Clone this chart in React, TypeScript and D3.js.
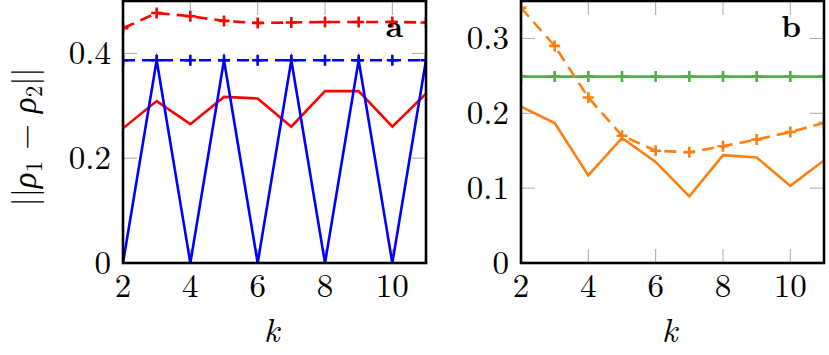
import React, { useEffect, useRef } from 'react';
import * as d3 from 'd3';

const ks = [2, 3, 4, 5, 6, 7, 8, 9, 10, 11];

// panel a
const redDashed = [0.448, 0.477, 0.471, 0.462, 0.458, 0.459, 0.46, 0.46, 0.46, 0.459];
const blueDashed = [0.387, 0.387, 0.387, 0.387, 0.387, 0.387, 0.387, 0.387, 0.387, 0.387];
const blueSolid = [0, 0.387, 0, 0.387, 0, 0.387, 0, 0.387, 0, 0.387];
const redSolid = [0.257, 0.309, 0.265, 0.317, 0.314, 0.26, 0.328, 0.328, 0.26, 0.323];

// panel b
const orangeDashed = [0.341, 0.29, 0.221, 0.17, 0.15, 0.148, 0.156, 0.165, 0.175, 0.187];
const orangeSolid = [0.209, 0.187, 0.117, 0.167, 0.135, 0.089, 0.144, 0.141, 0.103, 0.137];
const greenLine = [0.249, 0.249, 0.249, 0.249, 0.249, 0.249, 0.249, 0.249, 0.249, 0.249];

const xTicks = [2, 4, 6, 8, 10];
const yTicksA = [0, 0.2, 0.4];
const yTicksB = [0, 0.1, 0.2, 0.3];

const FONT = "'Latin Modern Roman', 'CMU Serif', 'Liberation Serif', serif";

type Series = { values: number[]; color: string; dashed: boolean; marks: boolean };

function drawPanel(svg: any, id: string, left: number, right: number, ymax: number,
                   yTicks: number[], series: Series[], letter: string, letterX: number) {
  const top = 1, bottom = 263;
  const x = d3.scaleLinear().domain([2, 11]).range([left, right]);
  const y = d3.scaleLinear().domain([0, ymax]).range([bottom, top]);

  const g = svg.append('g');

  g.append('clipPath').attr('id', id)
    .append('rect').attr('x', left).attr('y', top).attr('width', right - left).attr('height', bottom - top);

  // tick marks on all four sides, inside
  const tl = 14;
  const ticks = g.append('g').attr('stroke', '#a8a8a8').attr('stroke-width', 1);
  xTicks.forEach((t) => {
    ticks.append('line').attr('x1', x(t)).attr('x2', x(t)).attr('y1', bottom).attr('y2', bottom - tl);
    ticks.append('line').attr('x1', x(t)).attr('x2', x(t)).attr('y1', top).attr('y2', top + tl);
  });
  yTicks.forEach((t) => {
    ticks.append('line').attr('x1', left).attr('x2', left + tl).attr('y1', y(t)).attr('y2', y(t));
    ticks.append('line').attr('x1', right).attr('x2', right - tl).attr('y1', y(t)).attr('y2', y(t));
  });

  const line = d3.line<number>().x((d, i) => x(ks[i])).y((d) => y(d));
  const plot = g.append('g').attr('clip-path', `url(#${id})`);

  series.forEach((s) => {
    plot.append('path')
      .attr('d', line(s.values))
      .attr('fill', 'none')
      .attr('stroke', s.color)
      .attr('stroke-width', 2.6)
      .attr('stroke-miterlimit', 10)
      .attr('stroke-dasharray', s.dashed ? '12,7' : null);
    if (s.marks) {
      const m = 5.5;
      s.values.forEach((v, i) => {
        const cx = x(ks[i]), cy = y(v);
        plot.append('path')
          .attr('d', `M${cx - m},${cy}H${cx + m}M${cx},${cy - m}V${cy + m}`)
          .attr('stroke', s.color)
          .attr('stroke-width', 2.6);
      });
    }
  });

  // frame
  g.append('rect')
    .attr('x', left).attr('y', top).attr('width', right - left).attr('height', bottom - top)
    .attr('fill', 'none').attr('stroke', 'black').attr('stroke-width', 2.6);

  // tick labels
  g.selectAll('.xl').data(xTicks).enter().append('text')
    .attr('x', (d) => x(d)).attr('y', 297)
    .attr('text-anchor', 'middle')
    .attr('font-family', FONT).attr('font-size', 33)
    .text((d) => String(d));

  g.selectAll('.yl').data(yTicks).enter().append('text')
    .attr('x', left - 12).attr('y', (d) => y(d) + 11)
    .attr('text-anchor', 'end')
    .attr('font-family', FONT).attr('font-size', 33)
    .text((d) => (d === 0 ? '0' : String(d)));

  g.append('text')
    .attr('x', (left + right) / 2 - 3).attr('y', 342)
    .attr('text-anchor', 'middle')
    .attr('font-family', FONT).attr('font-size', 34).attr('font-style', 'italic')
    .text('k');

  g.append('text')
    .attr('x', letterX).attr('y', 37)
    .attr('text-anchor', 'end')
    .attr('font-family', FONT).attr('font-size', 31).attr('font-weight', 'bold')
    .text(letter);
}

export default function App() {
  const ref = useRef<SVGSVGElement>(null);

  useEffect(() => {
    const svg = d3.select(ref.current);
    svg.selectAll('*').remove();

    drawPanel(svg, 'clipA', 123, 426, 0.5, yTicksA, [
      { values: redDashed, color: '#ff0000', dashed: true, marks: true },
      { values: blueDashed, color: '#0000ff', dashed: true, marks: true },
      { values: redSolid, color: '#ff0000', dashed: false, marks: false },
      { values: blueSolid, color: '#0000ff', dashed: false, marks: false },
    ], 'a', 403);

    drawPanel(svg, 'clipB', 521, 824, 0.35, yTicksB, [
      { values: greenLine, color: '#4daf4a', dashed: false, marks: true },
      { values: orangeDashed, color: '#ff7f0e', dashed: true, marks: true },
      { values: orangeSolid, color: '#ff7f0e', dashed: false, marks: false },
    ], 'b', 801);

    // y axis label
    const yl = svg.append('text')
      .attr('transform', 'translate(36,137) rotate(-90)')
      .attr('text-anchor', 'middle')
      .attr('font-family', FONT).attr('font-size', 33);
    yl.append('tspan').text('||');
    yl.append('tspan').attr('font-style', 'italic').text('ρ');
    yl.append('tspan').attr('font-size', 23).attr('dy', 6).text('1');
    yl.append('tspan').attr('dy', -6).text(' − ');
    yl.append('tspan').attr('font-style', 'italic').text('ρ');
    yl.append('tspan').attr('font-size', 23).attr('dy', 6).text('2');
    yl.append('tspan').attr('dy', -6).text('||');
  }, []);

  return (
    <div style={{ position: 'fixed', left: 0, top: 0 }}>
      <svg ref={ref} width={829} height={355} style={{ display: 'block', background: 'white' }} />
    </div>
  );
}
